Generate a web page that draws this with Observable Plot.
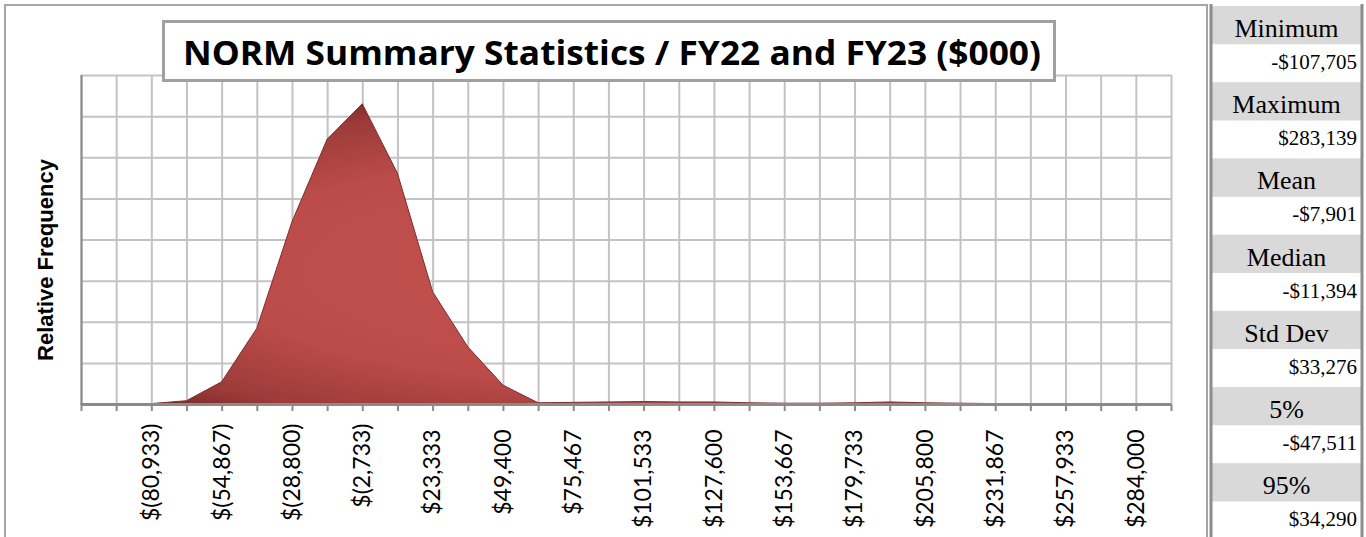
<!DOCTYPE html>
<html>
<head>
<meta charset="utf-8">
<script src="https://cdn.jsdelivr.net/npm/d3@7"></script>
<script src="https://cdn.jsdelivr.net/npm/@observablehq/plot@0.6"></script>
<style>
  html, body { margin: 0; padding: 0; background: #fff; }
  #wrap { position: relative; width: 1366px; height: 537px; overflow: hidden; background: #fff; }
  #wrap svg { position: absolute; left: 0; top: 0; }
</style>
</head>
<body>
<div id="wrap"></div>
<script>
// ---- data ----
const binValues = [-107000, -93967, -80933, -67900, -54867, -41833, -28800, -15767, -2733, 10300,
  23333, 36367, 49400, 62433, 75467, 88500, 101533, 114567, 127600, 140633, 153667, 166700,
  179733, 192767, 205800, 218833, 231867, 244900, 257933, 270967, 284000, 297033];
const relFreq = [0, 0, 0.01, 0.08, 0.54, 1.84, 4.43, 6.44, 7.30, 5.61, 2.73, 1.39, 0.46, 0.03,
  0.04, 0.05, 0.06, 0.05, 0.05, 0.03, 0.02, 0.02, 0.03, 0.05, 0.03, 0.02, 0.01, 0, 0, 0, 0, 0];
const tickValues = [-80933, -54867, -28800, -2733, 23333, 49400, 75467, 101533, 127600, 153667,
  179733, 205800, 231867, 257933, 284000];
const tickLabels = ["$(80,933)", "$(54,867)", "$(28,800)", "$(2,733)", "$23,333", "$49,400",
  "$75,467", "$101,533", "$127,600", "$153,667", "$179,733", "$205,800", "$231,867", "$257,933", "$284,000"];
const yGridValues = [1, 2, 3, 4, 5, 6, 7, 8];
const chartTitle = "NORM Summary Statistics / FY22 and FY23 ($000)";
const yLabel = "Relative Frequency";
const statLabels = ["Minimum", "Maximum", "Mean", "Median", "Std Dev", "5%", "95%"];
const statValues = ["-$107,705", "$283,139", "-$7,901", "-$11,394", "$33,276", "-$47,511", "$34,290"];

// ---- build tables ----
const series = binValues.map((x, i) => ({x, y: relFreq[i]}));
const ticks = tickValues.map((v, i) => ({v, label: tickLabels[i], neg: tickLabels[i].includes("(")}));

const W = 1208, H = 537;
const plot = Plot.plot({
  width: W, height: H,
  marginLeft: 81, marginRight: 37, marginTop: 75, marginBottom: 133,
  style: {fontFamily: "Lato, 'Open Sans', sans-serif", background: "transparent", overflow: "visible"},
  x: {type: "linear", domain: [binValues[0], binValues[binValues.length - 1]], axis: null},
  y: {type: "linear", domain: [0, 8], axis: null},
  marks: [
    Plot.gridX(binValues, {stroke: "#c3c3c3", strokeOpacity: 1, strokeWidth: 2}),
    Plot.gridY(yGridValues, {stroke: "#c3c3c3", strokeOpacity: 1, strokeWidth: 2}),
    Plot.areaY(series, {x: "x", y: "y", fill: "url(#areaGrad)", stroke: "#7c2d2b", strokeWidth: 1, curve: "linear"}),
    Plot.ruleX([binValues[0]], {stroke: "#8a8a8a", strokeWidth: 2}),
    Plot.axisX(binValues, {tickSize: 7, tickFormat: () => "", stroke: "#8a8a8a", strokeWidth: 2}),
    Plot.ruleY([0], {stroke: "#8a8a8a", strokeWidth: 3}),
    Plot.text(ticks.filter(d => d.neg), {x: "v", frameAnchor: "bottom", text: "label", rotate: -90,
      textAnchor: "end", lineAnchor: "middle", dy: 19, fontSize: 23, fill: "#000"}),
    Plot.text(ticks.filter(d => !d.neg), {x: "v", frameAnchor: "bottom", text: "label", rotate: -90,
      textAnchor: "end", lineAnchor: "middle", dy: 25, fontSize: 23, fill: "#000"}),
    Plot.text([yLabel], {frameAnchor: "left", rotate: -90, dx: -36, dy: 20, fontSize: 22,
      textAnchor: "middle", fontWeight: "bold", fontFamily: "'Liberation Sans', Arial, sans-serif",
      lineAnchor: "middle", fill: "#000"})
  ]
});

// gradient for the area
const defs = d3.select(plot).insert("defs", ":first-child");
const g = defs.append("radialGradient").attr("id", "areaGrad")
  .attr("cx", "50%").attr("cy", "55%").attr("r", "62%").attr("fx", "50%").attr("fy", "55%");
g.append("stop").attr("offset", "0%").attr("stop-color", "#c4524f");
g.append("stop").attr("offset", "60%").attr("stop-color", "#bb4c49");
g.append("stop").attr("offset", "88%").attr("stop-color", "#9c3b39");
g.append("stop").attr("offset", "100%").attr("stop-color", "#7a2a28");

document.getElementById("wrap").appendChild(plot);

// ---- overlay: frame, title box, stats panel ----
const ov = d3.select("#wrap").append("svg").attr("width", 1366).attr("height", 537);
ov.append("rect").attr("x", 5).attr("y", 5).attr("width", 1202).attr("height", 540)
  .attr("fill", "none").attr("stroke", "#a6a6a6").attr("stroke-width", 2);

ov.append("rect").attr("x", 163.5).attr("y", 21.5).attr("width", 891).attr("height", 59)
  .attr("fill", "#fff").attr("stroke", "#a0a0a0").attr("stroke-width", 3);
ov.append("text").attr("x", 183).attr("y", 64.5)
  .attr("font-family", "'Open Sans', Lato, sans-serif").attr("font-weight", "bold")
  .attr("font-size", 34).attr("textLength", 858).attr("lengthAdjust", "spacingAndGlyphs")
  .attr("fill", "#000").text(chartTitle);

const px = 1211, pw = 151, lh = 38.5, vh = 37.7, y0 = 6;
statLabels.forEach((lab, i) => {
  const top = y0 + i * (lh + vh);
  ov.append("rect").attr("x", px).attr("y", top).attr("width", pw).attr("height", lh).attr("fill", "#d9d9d9");
  ov.append("rect").attr("x", px).attr("y", top + lh).attr("width", pw).attr("height", vh).attr("fill", "#fff");
  ov.append("text").attr("x", px + pw / 2).attr("y", top + 31).attr("text-anchor", "middle")
    .attr("font-family", "'Liberation Serif', 'Times New Roman', serif").attr("font-size", 26)
    .attr("fill", "#000").text(lab);
  ov.append("text").attr("x", 1357).attr("y", top + lh + 24.5).attr("text-anchor", "end")
    .attr("font-family", "'Liberation Serif', 'Times New Roman', serif").attr("font-size", 21)
    .attr("fill", "#000").text(statValues[i]);
});
ov.append("line").attr("x1", px).attr("x2", px).attr("y1", 4).attr("y2", 537)
  .attr("stroke", "#8c8c8c").attr("stroke-width", 3);
ov.append("line").attr("x1", px + pw).attr("x2", px + pw).attr("y1", 4).attr("y2", 537)
  .attr("stroke", "#8c8c8c").attr("stroke-width", 3);
</script>
</body>
</html>
